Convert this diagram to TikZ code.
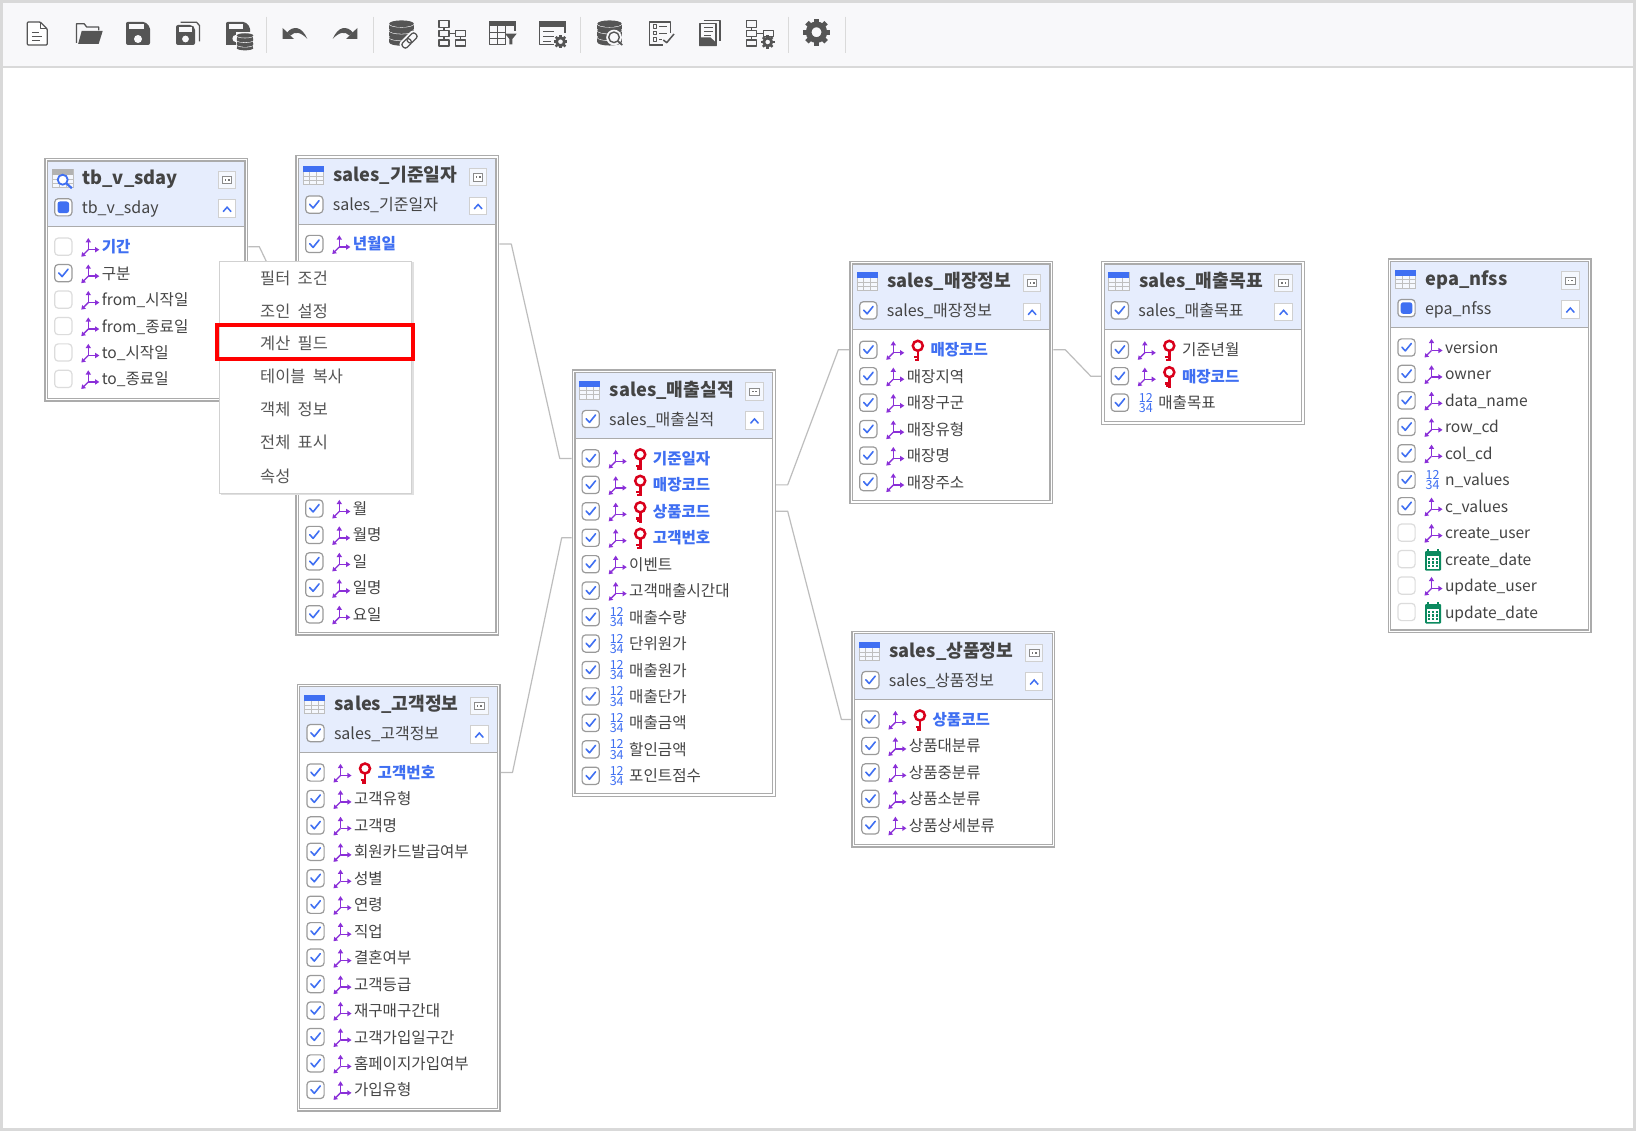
\documentclass[tikz,border=0pt]{standalone}
\usepackage{fontspec}
\setmainfont{Noto Sans CJK KR}
\newfontfamily\menufam[WordSpace=2]{Noto Sans CJK KR}
\usetikzlibrary{calc}
\definecolor{framegray}{HTML}{D9D9D9}
\definecolor{barbg}{HTML}{F8F8FA}
\definecolor{sepgray}{HTML}{DADADA}
\definecolor{icondark}{HTML}{555555}
\definecolor{boxline}{HTML}{ABABAB}
\definecolor{headbg}{HTML}{E6EDFD}
\definecolor{txt}{HTML}{444444}
\definecolor{keyblue}{HTML}{3F6FF2}
\definecolor{purp}{HTML}{8A2FD8}
\definecolor{keyred}{HTML}{D9001B}
\definecolor{calgreen}{HTML}{0B8A5F}
\definecolor{chkline}{HTML}{9A9A9A}
\definecolor{chkoff}{HTML}{DCDCDC}
\definecolor{btnline}{HTML}{D0D0D0}
\definecolor{linkgray}{HTML}{BDBDBD}
\definecolor{menutxt}{HTML}{555555}
\pgfdeclarelayer{bg}
\pgfsetlayers{bg,main}
\tikzset{
  tablebox/.style={draw=boxline,double=white,double distance=1.5pt,line width=1.2pt,fill=white,minimum width=200.1pt,inner sep=0pt,outer sep=0pt,anchor=north west},
  titletxt/.style={anchor=base west,inner sep=0pt,text=txt,font=\fontsize{18.2}{20}\selectfont\bfseries},
  subtxt/.style={anchor=base west,inner sep=0pt,text=txt,font=\fontsize{16}{20}\selectfont},
  rowtxt/.style={anchor=base west,inner sep=0pt,text=txt,font=\fontsize{15.6}{20}\selectfont},
  rowkey/.style={anchor=base west,inner sep=0pt,text=keyblue,font=\fontsize{15.6}{20}\selectfont\bfseries},
  numtxt/.style={inner sep=0pt,text=keyblue,font=\fontsize{12.5}{12}\selectfont},
  menuitem/.style={anchor=base west,inner sep=0pt,text=menutxt,font=\menufam\fontsize{16.4}{20}\selectfont},
  menubox/.style={draw=black!18,fill=white,line width=.8pt,anchor=north west,inner sep=0pt,outer sep=0pt,minimum width=192.7pt,minimum height=232pt},
  hilite/.style={draw=red,line width=4pt,anchor=north west,inner sep=0pt,outer sep=0pt,minimum width=196pt,minimum height=33.7pt},
  link/.style={draw=linkgray,line width=1.2pt,line join=round},
  tbl/.style={draw=icondark,line width=1.3pt,line join=round},
  tbf/.style={fill=icondark},
  axisline/.style={draw=purp,line width=1.3pt},
}
\newcounter{rowi}
\newcommand\chk[3]{%
  \ifnum#3=0
    \draw[chkoff,line width=1.2pt,fill=white,rounded corners=3.5pt] ({#1-8.6},{#2-8.6}) rectangle ({#1+8.6},{#2+8.6});
  \else
    \draw[chkline,line width=1.2pt,fill=white,rounded corners=3.5pt] ({#1-8.6},{#2-8.6}) rectangle ({#1+8.6},{#2+8.6});
  \fi
  \ifnum#3=1
    \draw[keyblue,line width=1.6pt,line cap=round,line join=round] ({#1-4.6},{#2-.3}) -- ({#1-1.2},{#2+3.4}) -- ({#1+4.8},{#2-4});
  \fi
  \ifnum#3=2
    \fill[keyblue,rounded corners=2.5pt] ({#1-5.8},{#2-5.8}) rectangle ({#1+5.8},{#2+5.8});
  \fi
}
\newcommand\attricon[2]{%
  \draw[axisline] ({#1},{#2+3}) -- ({#1},{#2-5});
  \draw[axisline] ({#1},{#2+3}) -- ({#1+7.5},{#2+3});
  \draw[axisline] ({#1},{#2+3}) -- ({#1-4.5},{#2+7.5});
  \fill[purp] ({#1},{#2-8.6}) -- ({#1-2.7},{#2-4.4}) -- ({#1+2.7},{#2-4.4}) -- cycle;
  \fill[purp] ({#1+11},{#2+3}) -- ({#1+6.9},{#2+.3}) -- ({#1+6.9},{#2+5.7}) -- cycle;
  \fill[purp] ({#1-7},{#2+10}) -- ({#1-2.4},{#2+9.2}) -- ({#1-6.1},{#2+5.5}) -- cycle;
}
\newcommand\numicon[2]{%
  \node[numtxt] at ({#1+1},{#2-5}) {12};
  \node[numtxt] at ({#1+1},{#2+5.2}) {34};
}
\newcommand\calicon[2]{%
  \fill[calgreen,rounded corners=1pt] ({#1-8},{#2-8}) rectangle ({#1+8},{#2+11.5});
  \fill[white] ({#1-6.4},{#2-3}) rectangle ({#1+6.4},{#2+10});
  \foreach \u in {-3.8,0,3.8}{\foreach \v in {-.2,3.4,7}{\fill[calgreen] ({#1+\u-1.2},{#2+\v-1.1}) rectangle ({#1+\u+1.2},{#2+\v+1.1});}}
  \draw[calgreen,line width=1.3pt] ({#1-5},{#2-10}) -- ({#1-5},{#2-8}) ({#1+5},{#2-10}) -- ({#1+5},{#2-8});
}
\newcommand\keyicon[2]{%
  \draw[keyred,line width=2.5pt] ({#1+.5},{#2-4}) circle [radius=5];
  \draw[keyred,line width=2.6pt] ({#1+.5},{#2+1}) -- ({#1+.5},{#2+11.5});
  \draw[keyred,line width=2.2pt] ({#1+.5},{#2+7.2}) -- ({#1-3.6},{#2+7.2});
  \draw[keyred,line width=2.2pt] ({#1+.5},{#2+10}) -- ({#1-2.6},{#2+10});
}
\newcommand\grid[2]{%
  \fill[headbg!40!white] ({#1},{#2}) rectangle ({#1+21},{#2+18.5});
  \draw[black!25,line width=.6pt] ({#1+.3},{#2+.3}) rectangle ({#1+20.7},{#2+18.2});
  \draw[black!25,line width=.6pt] ({#1+7},{#2+6}) -- ({#1+7},{#2+18}) ({#1+14},{#2+6}) -- ({#1+14},{#2+18})
     ({#1},{#2+10}) -- ({#1+21},{#2+10}) ({#1},{#2+14}) -- ({#1+21},{#2+14});
}
\newcommand\tablehead[7]{%
  \def\tn{#1}\def\cx{#2}\def\cy{#3}\setcounter{rowi}{0}%
  \pgfmathsetmacro\hh{#4-3.9}%
  \node[tablebox,minimum height=\hh pt] (#1) at ({#2+1.95},{#3+1.95}) {};
  \fill[headbg] ({#2+3.9},{#3+3.9}) rectangle ({#2+200.1},{#3+69});
  \draw[boxline,line width=.9pt] ({#2+3.9},{#3+69}) -- ({#2+200.1},{#3+69});
  \ifnum#6=0
    \grid{#2+7.3}{#3+11.3}
    \fill[keyblue] ({#2+7.3},{#3+11.3}) rectangle ({#2+28.3},{#3+17.5});
  \else
    \grid{#2+7.8}{#3+11.7}
    \fill[black!30] ({#2+7.8},{#3+11.7}) rectangle ({#2+28.8},{#3+17});
    \draw[keyblue,line width=1.8pt,fill=white] ({#2+18.4},{#3+22}) circle [radius=5];
    \draw[keyblue,line width=2.2pt] ({#2+22},{#3+25.6}) -- ({#2+27.5},{#3+30.5});
  \fi
  \node[titletxt] (#1-title) at ({#2+38},{#3+26.8}) {#5};
  \chk{#2+19}{#3+49.6}{#7}
  \node[subtxt] (#1-sub) at ({#2+37.3},{#3+55.7}) {#5};
  \draw[btnline,line width=1pt,fill=white!60!headbg] ({#2+174},{#3+13.5}) rectangle ({#2+191.5},{#3+31});
  \draw[black!45,line width=.7pt,fill=white] ({#2+178},{#3+18.5}) rectangle ({#2+187.5},{#3+26});
  \fill[black!55] ({#2+180.2},{#3+21.4}) rectangle ({#2+181.8},{#3+23});
  \fill[black!55] ({#2+183.7},{#3+21.4}) rectangle ({#2+185.3},{#3+23});
  \draw[btnline,line width=1pt,fill=white] ({#2+174},{#3+42.3}) rectangle ({#2+191.5},{#3+60});
  \draw[keyblue,line width=1.5pt] ({#2+178.8},{#3+54}) -- ({#2+182.8},{#3+49.5}) -- ({#2+186.8},{#3+54});
}
\newcommand\rowpos{%
  \pgfmathsetmacro\ry{\cy+89+26.45*\therowi}%
  \pgfmathsetmacro\rbase{\ry+6}%
  \coordinate (\tn-w\therowi) at (\cx,\ry);
  \coordinate (\tn-e\therowi) at ({\cx+204},\ry);
}
\newcommand\rowskip{\rowpos\stepcounter{rowi}}
\newcommand\R[3]{\rowpos
  \chk{\cx+19}{\ry}{#1}
  \if#2a\attricon{\cx+44}{\ry}\fi
  \if#2n\numicon{\cx+44}{\ry}\fi
  \if#2d\calicon{\cx+45.5}{\ry}\fi
  \node[rowtxt] (\tn-t\therowi) at ({\cx+57.3},\rbase) {#3};
  \stepcounter{rowi}}
\newcommand\Rb[2]{\rowpos
  \chk{\cx+19}{\ry}{#1}
  \attricon{\cx+44}{\ry}
  \node[rowkey] (\tn-t\therowi) at ({\cx+57.3},\rbase) {#2};
  \stepcounter{rowi}}
\newcommand\K[2]{\rowpos
  \chk{\cx+19}{\ry}{#1}
  \attricon{\cx+44}{\ry}
  \keyicon{\cx+68}{\ry}
  \node[rowkey] (\tn-t\therowi) at ({\cx+81},\rbase) {#2};
  \stepcounter{rowi}}
\newcommand\Kp[2]{\rowpos
  \chk{\cx+19}{\ry}{#1}
  \attricon{\cx+44}{\ry}
  \keyicon{\cx+68}{\ry}
  \node[rowtxt] (\tn-t\therowi) at ({\cx+81},\rbase) {#2};
  \stepcounter{rowi}}
\newcommand\gearicon[3]{%
  \draw[icondark,line width={#3*0.42pt}] ({#1},{#2}) circle [radius={#3*0.58}];
  \foreach \a in {0,45,...,315}{\draw[icondark,line width={#3*0.36pt}] ($({#1},{#2})+(\a:{#3*0.7})$) -- ($({#1},{#2})+(\a:{#3})$);}
}
\newcommand\dbicon[3]{% cx top halfwidth
  \foreach \k in {2,1,0}{
    \pgfmathsetmacro\ya{#2+0.18*#3+\k*0.55*#3}\pgfmathsetmacro\yb{\ya+0.42*#3}
    \fill[icondark] ({#1},\yb) ellipse [x radius=#3,y radius={0.27*#3}];
    \fill[icondark] ({#1-#3},\ya) rectangle ({#1+#3},\yb);
    \draw[barbg,line width=1.1pt] ({#1},\ya) ellipse [x radius=#3,y radius={0.27*#3}];
    \fill[icondark] ({#1},\ya) ellipse [x radius=#3,y radius={0.27*#3}];
  }
}
\newcommand\hierbox[4]{\draw[tbl,line width=1.1pt,fill=barbg] (#1,#2) rectangle (#3,#4);}
\newcommand\hier[2]{% left column and the row to the right
  \begin{scope}[shift={(#1,#2)}]
  \hierbox{-13}{-12.8}{-3}{-6.2}
  \hierbox{-13}{-3}{-3}{2.8}
  \hierbox{3.7}{-3}{13.7}{2.8}
  \hierbox{-13}{6.5}{-3}{12.5}
  \draw[tbl,line width=1.1pt] (-8,-6.2) -- (-8,-3) (-3,0) -- (3.7,0) (-8,2.8) -- (-8,6.5);
  \end{scope}
}
\begin{document}
\begin{tikzpicture}[x=1pt,y=-1pt]
\useasboundingbox (0,0) rectangle (1636,1131);
\begin{pgfonlayer}{bg}
\fill[white] (0,0) rectangle (1636,1131);
\end{pgfonlayer}
% toolbar
\fill[barbg] (3,3) rectangle (1633,66);
\draw[framegray,line width=2pt] (3,67) -- (1633,67);
\foreach \s in {266.7,373.7,580.7,788.4,845}{\draw[sepgray,line width=1pt] (\s,16.7) -- (\s,52.7);}
% new document
\begin{scope}[shift={(37.3,33.5)}]
 \draw[tbl,fill=white,rounded corners=1pt] (-10,-11.5) -- (3,-11.5) -- (10,-4.5) -- (10,11.5) -- (-10,11.5) -- cycle;
 \draw[tbl,line width=1pt] (3,-11.5) -- (3,-4.5) -- (10,-4.5);
 \draw[tbl,line width=1.1pt] (-5.5,-1) -- (1.5,-1) (-5.5,3) -- (5,3) (-5.5,7) -- (3,7);
\end{scope}
% open
\begin{scope}[shift={(89.2,33.5)}]
 \draw[tbl] (-12.7,9.5) -- (-12.7,-9.7) -- (-5,-9.7) -- (-2.5,-6.5) -- (9.5,-6.5) -- (9.5,-3);
 \fill[tbf] (-7.5,-2.5) -- (13.5,-2.5) -- (9.5,10.3) -- (-11,10.3) -- cycle;
\end{scope}
% save
\begin{scope}[shift={(138,33.5)}]
 \fill[tbf,rounded corners=2pt] (-12,-11.7) -- (7,-11.7) -- (12,-6.7) -- (12,11.5) -- (-12,11.5) -- cycle;
 \fill[barbg] (-8.7,-9.5) rectangle (6,-4.2);
 \fill[barbg] (0,5.5) circle [radius=4];
\end{scope}
% save as
\begin{scope}[shift={(187.5,33.5)}]
 \draw[tbl] (-7,-11.3) -- (9,-11.3) -- (12,-8) -- (12,8);
 \fill[tbf,rounded corners=2pt] (-11.5,-8.5) -- (4.5,-8.5) -- (7.5,-5.5) -- (7.5,11.5) -- (-11.5,11.5) -- cycle;
 \fill[barbg] (-8.2,-6) rectangle (4,-1.7);
 \fill[barbg] (-2,5.5) circle [radius=3.4];
\end{scope}
% save db
\begin{scope}[shift={(238,33.5)}]
 \fill[tbf,rounded corners=2pt] (-12,-11.7) -- (7,-11.7) -- (12,-6.7) -- (12,11.5) -- (-12,11.5) -- cycle;
 \fill[barbg] (-8.7,-9.5) rectangle (5,-4.2);
 \fill[barbg] (-2,-1) rectangle (17,14);
 \fill[tbf] (-12,-1) rectangle (-2,11.5);
 \fill[barbg] (-2,5) circle [radius=3.6];
 \dbicon{7}{.5}{8.3}
\end{scope}
% undo, redo
\begin{scope}[shift={(295,33.5)}]
 \fill[tbf] (-12.3,-5.5) -- (-12.3,5.5) -- (-1,5.5) -- cycle;
 \fill[tbf] (-8,-1) .. controls (-2,-8) and (7,-7.5) .. (12.3,5.5) .. controls (6,-1.5) and (0,-2.5) .. (-4.5,2) -- cycle;
\end{scope}
\begin{scope}[shift={(345,33.5)},xscale=-1]
 \fill[tbf] (-12.3,-5.5) -- (-12.3,5.5) -- (-1,5.5) -- cycle;
 \fill[tbf] (-8,-1) .. controls (-2,-8) and (7,-7.5) .. (12.3,5.5) .. controls (6,-1.5) and (0,-2.5) .. (-4.5,2) -- cycle;
\end{scope}
% db with clip
\begin{scope}[shift={(401.5,33.5)}]
 \dbicon{0}{-12}{12.3}
 \begin{scope}[shift={(8,7)},rotate=45]
  \fill[barbg,rounded corners=3pt] (-10.5,-5.5) rectangle (10.5,5.5);
  \draw[icondark,line width=1.3pt,rounded corners=2.5pt] (-9,-3.2) rectangle (1,3.2);
  \draw[icondark,line width=1.3pt,rounded corners=2.5pt] (-2,-3.2) rectangle (9,3.2);
 \end{scope}
\end{scope}
% hierarchy
\hier{452}{33.5}
\draw[tbl,line width=1.1pt,fill=barbg] (455.7,40) rectangle (465.7,46);
\draw[tbl,line width=1.1pt] (460.7,36.3) -- (460.7,40);
% table filter
\begin{scope}[shift={(502,33.5)}]
 \draw[tbl] (-12.7,-10) rectangle (13,11);
 \fill[tbf] (-13.3,-12) rectangle (13.6,-7.5);
 \draw[tbl,line width=1.1pt] (-12.7,-1) -- (4,-1) (-12.7,5) -- (4,5) (-4.6,-7.5) -- (-4.6,11) (3.4,-7.5) -- (3.4,11);
 \fill[barbg] (4,-2) rectangle (16,13);
 \fill[tbf] (3,.2) -- (14.7,.2) -- (10.3,5.5) -- (10.3,11) -- (7.4,11) -- (7.4,5.5) -- cycle;
\end{scope}
% table gear
\begin{scope}[shift={(552.5,33.5)}]
 \draw[tbl] (-12.7,-9) -- (-12.7,11.3) -- (1,11.3) (12.6,-9) -- (12.6,0);
 \fill[tbf] (-13.3,-12) rectangle (13.2,-6.8);
 \draw[tbl,line width=1.1pt] (-9.3,-2) -- (1.5,-2) (-9.3,3) -- (1.5,3) (-9.3,8) -- (-2,8);
 \gearicon{8}{8.2}{6.8}
\end{scope}
% db search
\begin{scope}[shift={(609.5,33.5)}]
 \dbicon{0}{-12}{12.2}
 \fill[barbg] (4.5,4) circle [radius=7.8];
 \draw[tbl,line width=1.4pt] (4.5,3.8) circle [radius=5.3];
 \draw[tbl,line width=1.7pt] (8.3,7.6) -- (12.8,11.5);
\end{scope}
% checklist
\begin{scope}[shift={(660.5,33.5)}]
 \draw[tbl] (2,11.5) -- (-10.7,11.5) -- (-10.7,-11.5) -- (9.7,-11.5) -- (9.7,0);
 \draw[tbl,line width=1pt] (-7.5,-8.5) rectangle (-4,-5.2) (-7.5,-2) rectangle (-4,1.4) (-7.5,4.2) rectangle (-4,7.6);
 \draw[tbl,line width=1.2pt] (-1.5,-6.8) -- (6,-6.8) (-1.5,-.2) -- (6,-.2) (-1.5,5.8) -- (1.5,5.8);
 \draw[tbl,line width=1.5pt] (2.8,6.5) -- (6.2,9.2) -- (13.5,.5);
\end{scope}
% document stack
\begin{scope}[shift={(709.5,33.5)}]
 \draw[tbl] (-6,-13) -- (10.5,-13) -- (10.5,8);
 \draw[tbl,fill=barbg] (-9.5,-10) rectangle (6.5,12);
 \fill[tbf] (-10.2,4) -- (1,4) -- (7.2,9.5) -- (7.2,12.7) -- (-10.2,12.7) -- cycle;
 \draw[tbl,line width=1.1pt] (-5.5,-6.2) -- (3.5,-6.2) (-5.5,-2.2) -- (3.5,-2.2) (-5.5,1.8) -- (1,1.8);
\end{scope}
% hierarchy gear
\hier{759.7}{33.5}
\gearicon{767.7}{42}{6.8}
% gear
\gearicon{816.5}{32.2}{13.5}
\fill[barbg] (816.5,32.2) circle [radius=4.3];

% tables
\tablehead{sday}{44.3}{157.7}{244}{tb\_v\_sday}{1}{2}
\Rb{0}{기간}\R{1}{a}{구분}\R{0}{a}{from\_시작일}\R{0}{a}{from\_종료일}\R{0}{a}{to\_시작일}\R{0}{a}{to\_종료일}

\tablehead{gijun}{295.3}{155}{480.5}{sales\_기준일자}{0}{1}
\Rb{1}{년월일}\rowskip\rowskip\rowskip\rowskip\rowskip\rowskip\rowskip\rowskip\rowskip
\R{1}{a}{월}\R{1}{a}{월명}\R{1}{a}{일}\R{1}{a}{일명}\R{1}{a}{요일}

\tablehead{silj}{571.7}{369.4}{427.5}{sales\_매출실적}{0}{1}
\K{1}{기준일자}\K{1}{매장코드}\K{1}{상품코드}\K{1}{고객번호}\R{1}{a}{이벤트}\R{1}{a}{고객매출시간대}
\R{1}{n}{매출수량}\R{1}{n}{단위원가}\R{1}{n}{매출원가}\R{1}{n}{매출단가}\R{1}{n}{매출금액}\R{1}{n}{할인금액}\R{1}{n}{포인트점수}

\tablehead{gogaek}{296.5}{683.5}{428}{sales\_고객정보}{0}{1}
\K{1}{고객번호}\R{1}{a}{고객유형}\R{1}{a}{고객명}\R{1}{a}{회원카드발급여부}\R{1}{a}{성별}\R{1}{a}{연령}\R{1}{a}{직업}\R{1}{a}{결혼여부}\R{1}{a}{고객등급}\R{1}{a}{재구매구간대}\R{1}{a}{고객가입일구간}\R{1}{a}{홈페이지가입여부}\R{1}{a}{가입유형}

\tablehead{maejang}{849.3}{260.8}{243}{sales\_매장정보}{0}{1}
\K{1}{매장코드}\R{1}{a}{매장지역}\R{1}{a}{매장구군}\R{1}{a}{매장유형}\R{1}{a}{매장명}\R{1}{a}{매장주소}

\tablehead{mokpyo}{1100.8}{260.8}{164}{sales\_매출목표}{0}{1}
\Kp{1}{기준년월}\K{1}{매장코드}\R{1}{n}{매출목표}

\tablehead{sangpum}{851.4}{630.5}{217}{sales\_상품정보}{0}{1}
\K{1}{상품코드}\R{1}{a}{상품대분류}\R{1}{a}{상품중분류}\R{1}{a}{상품소분류}\R{1}{a}{상품상세분류}

\tablehead{epa}{1387.5}{258.5}{374.8}{epa\_nfss}{0}{2}
\R{1}{a}{version}\R{1}{a}{owner}\R{1}{a}{data\_name}\R{1}{a}{row\_cd}\R{1}{a}{col\_cd}\R{1}{n}{n\_values}\R{1}{a}{c\_values}\R{0}{a}{create\_user}\R{0}{d}{create\_date}\R{0}{a}{update\_user}\R{0}{d}{update\_date}

% connectors
\begin{pgfonlayer}{bg}
\draw[link] (sday-e0) -- ++(11,0) -- ([xshift=-12pt]gijun-w2) -- (gijun-w2);
\draw[link] (gijun-e0) -- ++(12,0) -- ([xshift=-12pt]silj-w0) -- (silj-w0);
\draw[link] (gogaek-e0) -- ++(12,0) -- ([xshift=-10pt]silj-w3) -- (silj-w3);
\draw[link] (silj-e1) -- ++(12,0) -- ([xshift=-11pt]maejang-w0) -- (maejang-w0);
\draw[link] (silj-e2) -- ++(12,0) -- ([xshift=-10pt]sangpum-w0) -- (sangpum-w0);
\draw[link] (maejang-e0) -- ++(12,0) -- ([xshift=-10pt]mokpyo-w1) -- (mokpyo-w1);
\end{pgfonlayer}

% context menu
\fill[black!12] (220.5,262.5) rectangle (413.5,495);
\node[menubox] (menu) at (219,261) {};
\node[menuitem] (m1) at (260,284.3) {필터 조건};
\node[menuitem] (m2) at (260,317.3) {조인 설정};
\node[menuitem] (m3) at (260,350) {계산 필드};
\node[menuitem] (m4) at (260,383) {테이블 복사};
\node[menuitem] (m5) at (260,416) {객체 정보};
\node[menuitem] (m6) at (260,449) {전체 표시};
\node[menuitem] (m7) at (260,482) {속성};
\node[hilite] (hi) at (217,325.3) {};
% outer frame
\draw[framegray,line width=3pt] (1.5,1.5) rectangle (1634.5,1129.5);
\end{tikzpicture}
\end{document}
